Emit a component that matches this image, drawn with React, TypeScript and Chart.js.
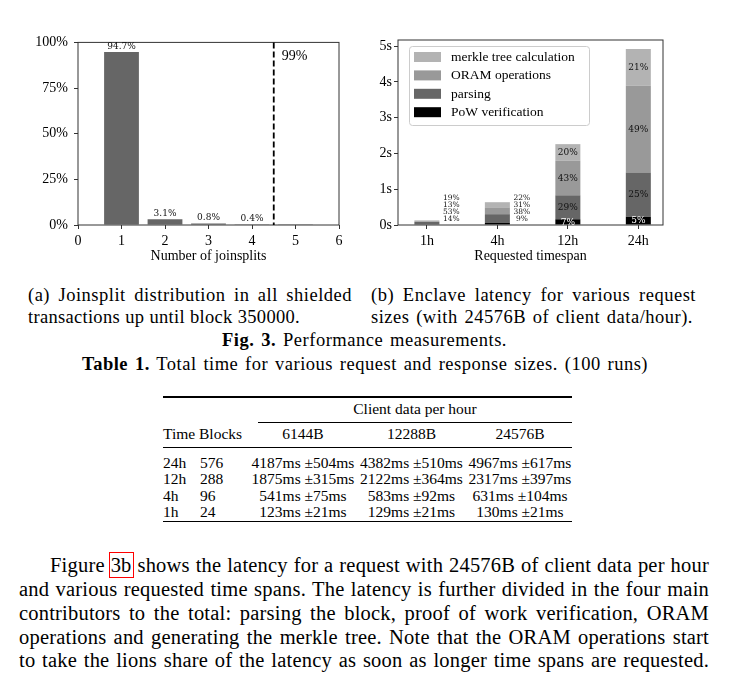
import React, { useEffect, useRef } from "react";
import { Chart, registerables } from "chart.js";

Chart.register(...registerables);

// ---------- Figure 3a data ----------
const joinsplitCounts = [0, 1, 2, 3, 4, 5];
const joinsplitShare = [0.3, 94.7, 3.1, 0.8, 0.4, 0.4];
const joinsplitLabels = ["", "94.7%", "3.1%", "0.8%", "0.4%", ""];
const countTicks = [0, 1, 2, 3, 4, 5, 6];
const shareTicks = [0, 25, 50, 75, 100];
const percentileX = 4.5;
const percentileLabel = "99%";

// ---------- Figure 3b data ----------
const timespans = ["1h", "4h", "12h", "24h"];
const timespanPos = [0, 1, 2, 3];
const powSec = [0.018, 0.057, 0.16, 0.23];
const parsingSec = [0.069, 0.245, 0.67, 1.24];
const oramSec = [0.017, 0.19, 0.97, 2.42];
const merkleSec = [0.025, 0.145, 0.46, 1.03];
const powPct = ["14%", "9%", "7%", "5%"];
const parsingPct = ["53%", "38%", "29%", "25%"];
const oramPct = ["13%", "31%", "43%", "49%"];
const merklePct = ["19%", "22%", "20%", "21%"];
const latencyTicks = [0, 1, 2, 3, 4, 5];
const seriesNames = ["PoW verification", "parsing", "ORAM operations", "merkle tree calculation"];
const seriesColors = ["#000000", "#666666", "#999999", "#b3b3b3"];

// ---------- Table 1 data ----------
const tableTimes = ["24h", "12h", "4h", "1h"];
const tableBlocks = ["576", "288", "96", "24"];
const tableSizes = ["6144B", "12288B", "24576B"];
const tableMs6144 = ["4187ms ±504ms", "1875ms ±315ms", "541ms ±75ms", "123ms ±21ms"];
const tableMs12288 = ["4382ms ±510ms", "2122ms ±364ms", "583ms ±92ms", "129ms ±21ms"];
const tableMs24576 = ["4967ms ±617ms", "2317ms ±397ms", "631ms ±104ms", "130ms ±21ms"];

const SERIF = '"Liberation Serif", "DejaVu Serif", serif';
const AXIS = "#333333";

const framePlugin = {
  id: "frame",
  afterDraw(chart: any) {
    const { ctx, chartArea: a } = chart;
    ctx.save();
    ctx.strokeStyle = AXIS;
    ctx.lineWidth = 1;
    ctx.strokeRect(a.left, a.top, a.right - a.left, a.bottom - a.top);
    ctx.restore();
  },
};

function axisCommon(extra: any) {
  return {
    border: { display: false },
    grid: { drawOnChartArea: false, drawTicks: true, tickLength: 4, color: AXIS, lineWidth: 1 },
    ...extra,
  };
}

function App() {
  const refA = useRef<HTMLCanvasElement | null>(null);
  const refB = useRef<HTMLCanvasElement | null>(null);

  useEffect(() => {
    const labelsA = {
      id: "labelsA",
      afterDraw(chart: any) {
        const { ctx, chartArea: a } = chart;
        const meta = chart.getDatasetMeta(0);
        ctx.save();
        ctx.fillStyle = "#111";
        ctx.font = '9px "DejaVu Serif"';
        ctx.textAlign = "center";
        ctx.textBaseline = "bottom";
        meta.data.forEach((bar: any, i: number) => {
          if (joinsplitLabels[i]) ctx.fillText(joinsplitLabels[i], bar.x, bar.y - 1);
        });
        const x = chart.scales.x.getPixelForValue(percentileX);
        ctx.strokeStyle = "#000";
        ctx.lineWidth = 1.8;
        ctx.setLineDash([6, 3]);
        ctx.beginPath();
        ctx.moveTo(x, a.top);
        ctx.lineTo(x, a.bottom);
        ctx.stroke();
        ctx.setLineDash([]);
        ctx.font = "14px " + SERIF;
        ctx.textAlign = "left";
        ctx.textBaseline = "middle";
        ctx.fillStyle = "#000";
        ctx.fillText(percentileLabel, x + 8, a.top + 14);
        ctx.restore();
      },
    };

    const chartA = new Chart(refA.current as HTMLCanvasElement, {
      type: "bar",
      data: {
        datasets: [
          {
            data: joinsplitCounts.map((x, i) => ({ x, y: joinsplitShare[i] })),
            backgroundColor: "#666666",
            barPercentage: 0.8,
            categoryPercentage: 1,
          },
        ],
      },
      options: {
        responsive: false,
        animation: false,
        devicePixelRatio: 1,
        layout: { padding: { top: 12, right: 11, left: 0, bottom: 0 } },
        plugins: { legend: { display: false }, tooltip: { enabled: false } },
        scales: {
          x: axisCommon({
            type: "linear",
            min: 0,
            max: 6,
            offset: false,
            grid: { offset: false, drawOnChartArea: false, drawTicks: true, tickLength: 4, color: AXIS },
            afterBuildTicks: (s: any) => {
              s.ticks = countTicks.map((v) => ({ value: v }));
            },
            afterFit: (s: any) => {
              s.height = 43;
            },
            ticks: { color: "#000", padding: 3.5, font: { family: SERIF, size: 14 }, maxRotation: 0 },
            title: {
              display: true,
              text: "Number of joinsplits",
              color: "#000",
              font: { family: SERIF, size: 14 },
              padding: { top: 0, bottom: 3 },
            },
          }),
          y: axisCommon({
            min: 0,
            max: 100,
            afterBuildTicks: (s: any) => {
              s.ticks = shareTicks.map((v) => ({ value: v }));
            },
            afterFit: (s: any) => {
              s.width = 58;
            },
            ticks: {
              color: "#000",
              padding: 6,
              font: { family: SERIF, size: 14 },
              callback: (v: any) => v + "%",
            },
          }),
        },
      } as any,
      plugins: [framePlugin, labelsA],
    });

    const pcts = [powPct, parsingPct, oramPct, merklePct];
    const labelsB = {
      id: "labelsB",
      afterDraw(chart: any) {
        const { ctx, chartArea: a } = chart;
        ctx.save();
        ctx.textAlign = "center";
        ctx.textBaseline = "middle";
        timespans.forEach((_, i) => {
          const bars = [0, 1, 2, 3].map((d) => chart.getDatasetMeta(d).data[i]);
          const bottom = bars[0].base;
          const top = bars[3].y;
          if (bottom - top < 40) {
            ctx.font = '7.5px "DejaVu Serif"';
            ctx.fillStyle = "#111";
            bars.forEach((b: any, d: number) => {
              ctx.fillText(pcts[d][i], b.x + 24.5, bottom - 5 - 7 * d);
            });
          } else {
            ctx.font = '9px "DejaVu Serif"';
            bars.forEach((b: any, d: number) => {
              ctx.fillStyle = d === 0 ? "#ffffff" : "#111";
              ctx.fillText(pcts[d][i], b.x, (b.y + b.base) / 2 + 0.5);
            });
          }
        });

        // legend
        const bx = a.left + 11;
        const by = a.top + 6;
        const bw = 180;
        const bh = 79;
        ctx.beginPath();
        ctx.roundRect(bx + 0.5, by + 0.5, bw, bh, 3);
        ctx.fillStyle = "rgba(255,255,255,0.85)";
        ctx.fill();
        ctx.strokeStyle = "#cccccc";
        ctx.lineWidth = 1;
        ctx.stroke();
        ctx.font = "13.5px " + SERIF;
        ctx.textAlign = "left";
        ctx.textBaseline = "middle";
        for (let k = 0; k < 4; k++) {
          const d = 3 - k;
          const cy = by + 11 + k * 18.4;
          ctx.fillStyle = seriesColors[d];
          ctx.fillRect(bx + 5, cy - 5, 27, 10);
          ctx.fillStyle = "#000";
          ctx.fillText(seriesNames[d], bx + 42, cy + 0.5);
        }
        ctx.restore();
      },
    };

    const seriesValues = [powSec, parsingSec, oramSec, merkleSec];
    const chartB = new Chart(refB.current as HTMLCanvasElement, {
      type: "bar",
      data: {
        datasets: seriesValues.map((vals, d) => ({
          label: seriesNames[d],
          data: timespanPos.map((x, i) => ({ x, y: vals[i] })),
          backgroundColor: seriesColors[d],
          barPercentage: 0.355,
          categoryPercentage: 1,
        })),
      },
      options: {
        responsive: false,
        animation: false,
        devicePixelRatio: 1,
        layout: { padding: { top: 12, right: 9, left: 0, bottom: 0 } },
        plugins: { legend: { display: false }, tooltip: { enabled: false } },
        scales: {
          x: axisCommon({
            type: "linear",
            stacked: true,
            min: -0.41,
            max: 3.35,
            offset: false,
            grid: { offset: false, drawOnChartArea: false, drawTicks: true, tickLength: 4, color: AXIS },
            afterBuildTicks: (s: any) => {
              s.ticks = timespanPos.map((v) => ({ value: v }));
            },
            afterFit: (s: any) => {
              s.height = 43;
            },
            ticks: {
              color: "#000",
              padding: 3.5,
              font: { family: SERIF, size: 14 },
              maxRotation: 0,
              callback: (v: any) => timespans[timespanPos.indexOf(v)] ?? "",
            },
            title: {
              display: true,
              text: "Requested timespan",
              color: "#000",
              font: { family: SERIF, size: 14 },
              padding: { top: 0, bottom: 3 },
            },
          }),
          y: axisCommon({
            stacked: true,
            min: 0,
            max: 5.17,
            afterBuildTicks: (s: any) => {
              s.ticks = latencyTicks.map((v) => ({ value: v }));
            },
            afterFit: (s: any) => {
              s.width = 38;
            },
            ticks: {
              color: "#000",
              padding: 2,
              font: { family: SERIF, size: 14 },
              callback: (v: any) => v + "s",
            },
          }),
        },
      } as any,
      plugins: [framePlugin, labelsB],
    });

    return () => {
      chartA.destroy();
      chartB.destroy();
    };
  }, []);

  const line = (left: number, top: number, width: number, fs: number, lh: number, content: any, justify = true, extra: any = {}) => (
    <div
      style={{
        position: "absolute",
        left,
        top,
        width,
        fontSize: fs,
        lineHeight: lh + "px",
        textAlign: justify ? "justify" : "left",
        textAlignLast: justify ? "justify" : "left",
        ...extra,
      }}
    >
      {content}
    </div>
  );

  const T = 15.5;
  const TL = 18;
  const cellCenters = [303, 411.5, 520];
  const cols = [tableMs6144, tableMs12288, tableMs24576];
  const rowTops = [454, 470, 487, 503];
  const cap = { letterSpacing: "0.5px" };
  const par = { letterSpacing: "0.2px" };

  return (
    <div
      style={{
        position: "absolute",
        left: 0,
        top: 0,
        width: 732,
        height: 682,
        background: "#fff",
        color: "#000",
        fontFamily: SERIF,
        overflow: "hidden",
      }}
    >
      <canvas ref={refA} width={330} height={240} style={{ position: "absolute", left: 20, top: 28, width: 330, height: 240 }} />
      <canvas ref={refB} width={312} height={240} style={{ position: "absolute", left: 360, top: 28, width: 312, height: 240 }} />

      {line(28, 284, 324, 18.5, 22, "(a) Joinsplit distribution in all shielded", true, cap)}
      {line(28, 306, 272, 18.5, 22, "transactions up until block 350000.", true, { letterSpacing: "0.3px" })}
      {line(371, 284, 325, 18.5, 22, "(b) Enclave latency for various request", true, cap)}
      {line(371, 306, 322, 18.5, 22, "sizes (with 24576B of client data/hour).", true, cap)}
      {line(222, 329, 285, 18.5, 22, (
        <>
          <b>Fig. 3.</b> Performance measurements.
        </>
      ), true, cap)}
      {line(82, 353, 566, 18.5, 22, (
        <>
          <b>Table 1.</b> Total time for various request and response sizes. (100 runs)
        </>
      ), true, cap)}

      {/* Table 1 */}
      <div style={{ position: "absolute", left: 163, top: 396, width: 409, height: 1.5, background: "#000" }} />
      <div style={{ position: "absolute", left: 258, top: 421.5, width: 314, height: 1, background: "#000" }} />
      <div style={{ position: "absolute", left: 163, top: 446.5, width: 409, height: 1, background: "#000" }} />
      <div style={{ position: "absolute", left: 163, top: 520.5, width: 409, height: 1.5, background: "#000" }} />
      {line(258, 400, 314, T, TL, "Client data per hour", false, { textAlign: "center", textAlignLast: "center" })}
      {line(163, 425, 40, T, TL, "Time", false)}
      {line(199, 425, 60, T, TL, "Blocks", false)}
      {tableSizes.map((s, j) =>
        <React.Fragment key={s}>{line(cellCenters[j] - 55, 425, 110, T, TL, s, false, { textAlign: "center", textAlignLast: "center" })}</React.Fragment>
      )}
      {tableTimes.map((t, r) => (
        <React.Fragment key={t}>
          {line(163, rowTops[r], 36, T, TL, t, false)}
          {line(200, rowTops[r], 40, T, TL, tableBlocks[r], false)}
          {cols.map((c, j) => (
            <React.Fragment key={j}>
              {line(cellCenters[j] - 56, rowTops[r], 112, T, TL, c[r], false, { textAlign: "center", textAlignLast: "center", whiteSpace: "nowrap" })}
            </React.Fragment>
          ))}
        </React.Fragment>
      ))}

      {/* Paragraph */}
      {line(50, 553, 659, 20.5, 24, (
        <>
          Figure <span style={{ outline: "1.5px solid #ff0000", outlineOffset: "1px" }}>3b</span> shows the latency for a request with 24576B of client data per hour
        </>
      ), true, par)}
      {line(19, 577, 690, 20.5, 24, "and various requested time spans. The latency is further divided in the four main", true, par)}
      {line(19, 601, 690, 20.5, 24, "contributors to the total: parsing the block, proof of work verification, ORAM", true, par)}
      {line(19, 625, 690, 20.5, 24, "operations and generating the merkle tree. Note that the ORAM operations start", true, par)}
      {line(19, 648, 690, 20.5, 24, "to take the lions share of the latency as soon as longer time spans are requested.", true, par)}
    </div>
  );
}

export default App;
